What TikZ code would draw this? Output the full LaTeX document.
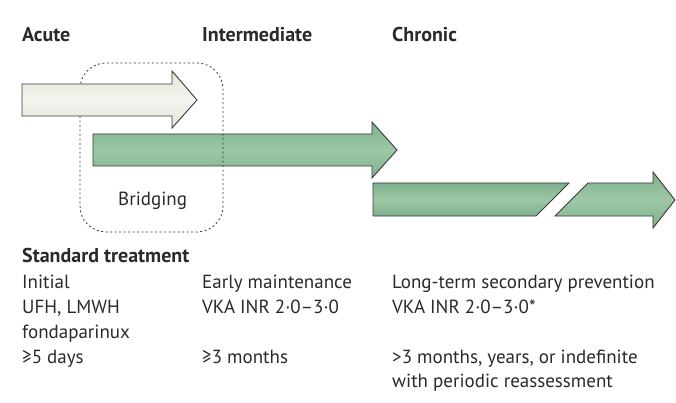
\documentclass[tikz,border=0pt]{standalone}
\usepackage{fontspec}
\setmainfont{PT Sans}
\usetikzlibrary{positioning,calc}
\definecolor{edge}{HTML}{3A3A3A}
\definecolor{paletop}{HTML}{E2E7D6}
\definecolor{palemid}{HTML}{F3F5EE}
\definecolor{leaf}{HTML}{7FB08B}
\definecolor{leaflight}{HTML}{9DC8A7}
\definecolor{ink}{HTML}{2A2A2A}
\tikzset{
  acutearrow/.style={
    draw=edge,line width=.9pt,line join=miter,
    top color=paletop,bottom color=paletop,middle color=palemid
  },
  greenarrow/.style={
    draw=edge,line width=.9pt,line join=miter,
    top color=leaf,bottom color=leaf,middle color=leaflight
  },
  bridgebox/.style={
    draw=edge,line width=.8pt,dash pattern=on 2pt off 2.5pt,
    rounded corners=26pt
  },
  phase/.style={anchor=base west,inner sep=0pt,text=ink,
    font=\bfseries\fontsize{20}{23}\selectfont},
  line/.style={anchor=base west,inner sep=0pt,text=ink,
    font=\fontsize{19}{22}\selectfont}
}

\begin{document}
\begin{tikzpicture}[x=1pt,y=-1pt]
\useasboundingbox[fill=white] (0,0) rectangle (676,403);
% phase headings
\node[phase] (acute) at (22,42) {Acute};
\node[phase] (inter) at (202,42) {Intermediate};
\node[phase] (chron) at (392,42) {Chronic};
% arrows
\draw[greenarrow] (93,134) -- (372,134) -- (372,122) -- (397,150)
  -- (372,178) -- (372,166) -- (93,166) -- cycle;
\draw[bridgebox] (80,63) rectangle (223,232);
\draw[acutearrow] (22,84) -- (172,84) -- (172,71) -- (197,100)
  -- (172,128) -- (172,116) -- (22,116) -- cycle;
\draw[greenarrow] (373,183) -- (569,183) -- (536,216) -- (373,216) -- cycle;
\draw[greenarrow] (555,216) -- (588,183) -- (653,183) -- (653,172)
  -- (675,200) -- (653,228) -- (653,216) -- cycle;
\node[line] (bridge) at (118,206) {Bridging};
% treatment columns
\node[phase] (std) at (22,262) {Standard treatment};
\node[line] (ini) at (22,288) {Initial};
\node[line] (ufh) at (22,313) {UFH, LMWH};
\node[line] (fond) at (22,338) {fondaparinux};
\node[line] (days) at (22,363) {≥5 days};
\node[line] (early) at (202,288) {Early maintenance};
\node[line] (vka1) at (202,313) {VKA INR 2·0–3·0};
\node[line] (mon) at (202,363) {≥3 months};
\node[line] (long) at (392,288) {Long-term secondary prevention};
\node[line] (vka2) at (392,313) {VKA INR 2·0–3·0*};
\node[line] (years) at (392,363) {>3 months, years, or indefinite};
\node[line] (reass) at (392,387) {with periodic reassessment};
\end{tikzpicture}
\end{document}
